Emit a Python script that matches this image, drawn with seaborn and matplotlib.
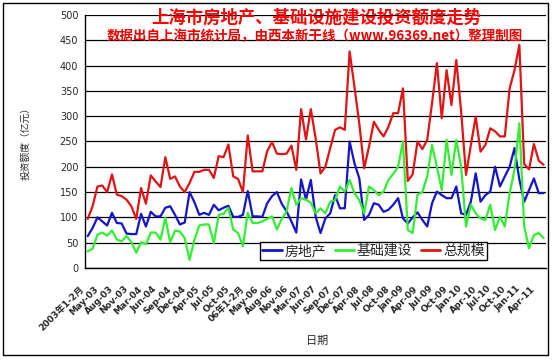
import numpy as np
import pandas as pd
import matplotlib
matplotlib.use("Agg")
import matplotlib.pyplot as plt
import matplotlib.transforms as mtransforms
from matplotlib.patches import Rectangle
import seaborn as sns

# ------------------------------------------------------------
# Daten (Einheit: 亿元)
# ------------------------------------------------------------
fangdichan = [63, 79, 100, 92, 84, 109, 89, 88, 68, 67, 67, 107, 82, 111, 102, 102,
              119, 122, 105, 86, 90, 150, 130, 105, 109, 105, 125, 114, 119, 123,
              101, 101, 105, 152, 102, 102, 101, 128, 142, 150, 127, 112, 92, 70,
              175, 135, 174, 101, 69, 98, 108, 144, 118, 118, 250, 207, 177, 95,
              105, 128, 125, 111, 115, 125, 138, 98, 88, 100, 110, 95, 82, 128,
              151, 144, 138, 138, 161, 108, 105, 131, 187, 131, 144, 151, 200,
              161, 181, 200, 237, 175, 131, 154, 177, 148, 148]

jichu = [33, 38, 66, 70, 64, 74, 56, 53, 63, 51, 30, 51, 47, 70, 70, 56, 99, 51,
         74, 72, 59, 16, 56, 84, 86, 86, 49, 105, 107, 119, 76, 69, 43, 109, 89,
         89, 92, 97, 102, 76, 97, 112, 158, 125, 138, 135, 129, 108, 118, 108,
         131, 134, 161, 151, 174, 148, 134, 108, 161, 154, 144, 151, 174, 186,
         200, 250, 75, 69, 145, 150, 181, 243, 200, 154, 253, 184, 253, 200, 82,
         125, 108, 98, 95, 125, 75, 101, 82, 148, 194, 286, 82, 39, 65, 69, 59]

zongguimo = [97, 122, 161, 163, 150, 185, 145, 142, 135, 122, 97, 158, 127, 183,
             171, 160, 219, 176, 181, 161, 150, 168, 190, 190, 194, 194, 178, 221,
             219, 244, 181, 176, 150, 262, 191, 191, 191, 231, 249, 226, 225, 226,
             242, 194, 314, 254, 314, 256, 187, 200, 237, 273, 278, 273, 428, 358,
             285, 197, 240, 289, 273, 260, 279, 306, 306, 355, 172, 185, 250, 235,
             253, 326, 405, 296, 391, 322, 411, 309, 184, 243, 299, 230, 243, 276,
             270, 260, 260, 355, 391, 441, 205, 195, 245, 212, 204]

tick_pos = list(range(0, 95, 3))
tick_labels = ["2003年1-2月", "May-03", "Aug-03", "Nov-03", "Mar-04", "Jun-04",
               "Sep-04", "Dec-04", "Apr-05", "Jul-05", "Oct-05", "06年1-2月",
               "May-06", "Aug-06", "Nov-06", "Mar-07", "Jun-07", "Sep-07",
               "Dec-07", "Apr-08", "Jul-08", "Oct-08", "Jan-09", "Apr-09",
               "Jul-09", "Oct-09", "Jan-10", "Apr-10", "Jul-10", "Oct-10",
               "Jan-11", "Apr-11"]

series_names = ["房地产", "基础建设", "总规模"]
colors = ["#1414c8", "#33ee33", "#e01414"]

n = len(zongguimo)
df = pd.DataFrame({
    "idx": list(range(n)) * 3,
    "wert": fangdichan + jichu + zongguimo,
    "reihe": [series_names[0]] * n + [series_names[1]] * n + [series_names[2]] * n,
})

# ------------------------------------------------------------
# Plot
# ------------------------------------------------------------
sns.set_style("white")
plt.rcParams["font.family"] = ["DejaVu Sans", "Noto Sans CJK SC"]

fig = plt.figure(figsize=(5.54, 3.6), dpi=100)
ax = fig.add_axes([0.154, 0.2556, 0.8316, 0.7027])

sns.lineplot(data=df, x="idx", y="wert", hue="reihe", palette=colors,
             hue_order=series_names, linewidth=1.6, ax=ax)

ax.set_xlim(-0.5, n - 0.5)
ax.set_ylim(0, 500)
ax.set_yticks(range(0, 501, 50))
ax.yaxis.grid(True, color="black", linewidth=0.9)
ax.xaxis.grid(False)
for s in ["top", "right"]:
    ax.spines[s].set_visible(False)
for s in ["left", "bottom"]:
    ax.spines[s].set_color("black")
    ax.spines[s].set_linewidth(1.0)

ax.tick_params(axis="y", labelsize=7, length=3, direction="out", color="black", pad=2)
ax.set_xticks(tick_pos)
ax.set_xticks(range(n), minor=True)
ax.tick_params(axis="x", which="minor", length=3, direction="out", color="black")
ax.tick_params(axis="x", which="major", length=3, direction="out", color="black", pad=11)
ax.set_xticklabels(tick_labels, rotation=45, ha="right", va="center",
                   rotation_mode="anchor", fontsize=6.5, fontweight="bold")
shift = mtransforms.ScaledTranslation(-5 / 100, 0, fig.dpi_scale_trans)
for lab in ax.get_xticklabels():
    lab.set_transform(lab.get_transform() + shift)

ax.set_xlabel("")
ax.set_ylabel("")
fig.text(25 / 554, 1 - 141 / 360, "投资额度（亿元）", rotation=90, ha="center",
         va="center", fontsize=7, family=["Noto Sans CJK SC", "DejaVu Sans"])
fig.text(317 / 554, 1 - 341 / 360, "日期", ha="center", va="center", fontsize=8,
         family=["Noto Sans CJK SC", "DejaVu Sans"])

fig.text(316 / 554, 1 - 18 / 360, "上海市房地产、基础设施建设投资额度走势",
         ha="center", va="center", fontsize=12.5, color="#ff0000", fontweight="bold",
         family=["Noto Sans CJK SC", "DejaVu Sans"])
fig.text(315 / 554, 1 - 36 / 360, "数据出自上海市统计局，由西本新干线（www.96369.net）整理制图",
         ha="center", va="center", fontsize=9.7, color="#ee0000", fontweight="bold",
         family=["Noto Sans CJK SC", "DejaVu Sans"])

leg = ax.legend(loc="center", bbox_to_anchor=(0.6256, 0.067), ncol=3,
                frameon=True, fancybox=False, handlelength=1.4,
                handletextpad=0.2, columnspacing=0.6, borderpad=0.15,
                prop={"family": ["Noto Sans CJK SC", "DejaVu Sans"], "size": 10})
leg.get_frame().set_edgecolor("black")
leg.get_frame().set_linewidth(1.0)
leg.get_frame().set_alpha(1)
for line in leg.get_lines():
    line.set_linewidth(2)

fig.patches.append(Rectangle((0.006, 0.0139), 0.9837, 0.9769, fill=False,
                             edgecolor="black", linewidth=1.0,
                             transform=fig.transFigure))

fig.savefig("out.png", dpi=100, facecolor="white")
